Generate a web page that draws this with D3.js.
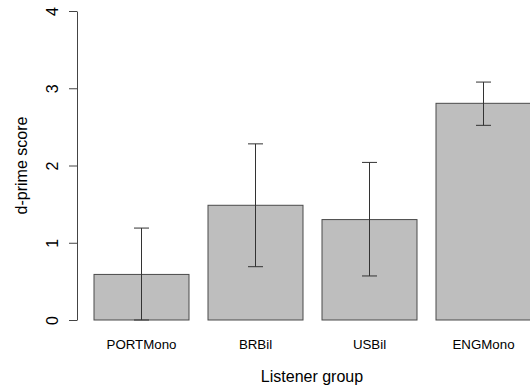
<!DOCTYPE html>
<html>
<head>
<meta charset="utf-8">
<script src="https://cdn.jsdelivr.net/npm/d3@7"></script>
<style>
  body { margin: 0; background: #fff; }
  svg { display: block; font-family: "Liberation Sans", Arial, sans-serif; }
</style>
</head>
<body>
<svg id="chart"></svg>
<script>
// listener groups and d-prime means with error bar limits
var groups = ["PORTMono", "BRBil", "USBil", "ENGMono"];
var means = [0.59, 1.485, 1.30, 2.805];
var lower = [0.0, 0.69, 0.57, 2.52];
var upper = [1.19, 2.28, 2.04, 3.08];
var yTicks = [0, 1, 2, 3, 4];

var width = 530, height = 387;

var svg = d3.select("#chart")
    .attr("width", width)
    .attr("height", height);

var x = d3.scaleBand()
    .domain(groups)
    .range([84.5, 540.5])
    .paddingInner(1 / 6)
    .paddingOuter(1 / 12);

var y = d3.scaleLinear()
    .domain([0, 4])
    .range([320, 11]);

// bars
svg.selectAll("rect.bar")
    .data(groups)
    .enter().append("rect")
    .attr("class", "bar")
    .attr("x", function(d) { return x(d); })
    .attr("y", function(d, i) { return y(means[i]); })
    .attr("width", x.bandwidth())
    .attr("height", function(d, i) { return y(0) - y(means[i]); })
    .style("fill", "#bebebe")
    .style("stroke", "#4a4a4a")
    .style("stroke-width", 1);

// error bars
var cap = 7.5;
var eb = svg.selectAll("g.err")
    .data(groups)
    .enter().append("g")
    .attr("class", "err")
    .style("stroke", "#333")
    .style("stroke-width", 1);

eb.append("line")
    .attr("x1", function(d) { return x(d) + x.bandwidth() / 2; })
    .attr("x2", function(d) { return x(d) + x.bandwidth() / 2; })
    .attr("y1", function(d, i) { return y(lower[i]); })
    .attr("y2", function(d, i) { return y(upper[i]); });
eb.append("line")
    .attr("x1", function(d) { return x(d) + x.bandwidth() / 2 - cap; })
    .attr("x2", function(d) { return x(d) + x.bandwidth() / 2 + cap; })
    .attr("y1", function(d, i) { return y(upper[i]); })
    .attr("y2", function(d, i) { return y(upper[i]); });
eb.append("line")
    .attr("x1", function(d) { return x(d) + x.bandwidth() / 2 - cap; })
    .attr("x2", function(d) { return x(d) + x.bandwidth() / 2 + cap; })
    .attr("y1", function(d, i) { return y(lower[i]); })
    .attr("y2", function(d, i) { return y(lower[i]); });

// y axis, R style with rotated labels
var yAxis = svg.append("g")
    .attr("transform", "translate(77,0)")
    .call(d3.axisLeft(y).tickValues(yTicks).tickSize(8).tickSizeOuter(0).tickFormat(d3.format("d")));
yAxis.attr("font-size", null).attr("font-family", null);
yAxis.selectAll("path, line").style("stroke", "#444");
yAxis.selectAll("text")
    .attr("x", null).attr("dy", null)
    .attr("transform", "translate(-19,0) rotate(-90)")
    .attr("text-anchor", "middle")
    .style("font-size", "16px")
    .attr("fill", "#000");

// category labels
svg.selectAll("text.cat")
    .data(groups)
    .enter().append("text")
    .attr("class", "cat")
    .attr("x", function(d) { return x(d) + x.bandwidth() / 2; })
    .attr("y", 349)
    .attr("text-anchor", "middle")
    .style("font-size", "13.3px")
    .attr("fill", "#000")
    .text(function(d) { return d; });

// axis titles
svg.append("text")
    .attr("x", 312)
    .attr("y", 381.5)
    .attr("text-anchor", "middle")
    .style("font-size", "16px")
    .attr("fill", "#000")
    .text("Listener group");

svg.append("text")
    .attr("transform", "translate(27,165.5) rotate(-90)")
    .attr("text-anchor", "middle")
    .style("font-size", "16px")
    .attr("fill", "#000")
    .text("d-prime score");
</script>
</body>
</html>
